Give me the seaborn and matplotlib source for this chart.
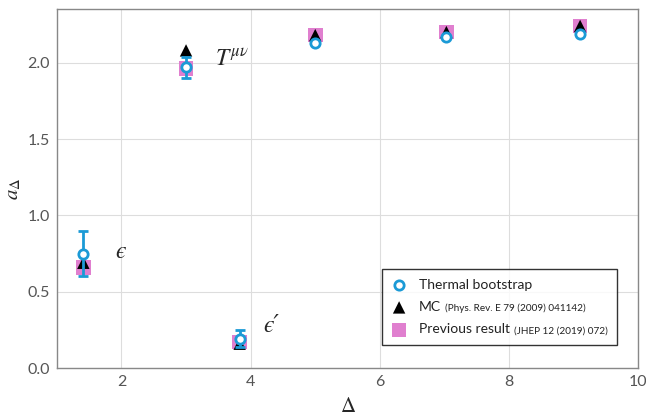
import pandas as pd
import seaborn as sns
import matplotlib.pyplot as plt
from matplotlib.ticker import MultipleLocator
from matplotlib.offsetbox import TextArea, HPacker

# operator dimensions and coefficients
delta = [1.41, 3.0, 3.83, 5.0, 7.03, 9.1]
thermal = [0.75, 1.97, 0.19, 2.13, 2.17, 2.19]
thermal_lo = [0.60, 1.90, 0.14, 2.13, 2.17, 2.19]
thermal_hi = [0.90, 2.04, 0.25, 2.13, 2.17, 2.19]
mc = [0.69, 2.08, 0.16, 2.18, 2.20, 2.24]
previous = [0.66, 1.96, 0.17, 2.18, 2.20, 2.24]

names = ['Thermal bootstrap', 'MC', 'Previous result']
refs = ['', '(Phys. Rev. E 79 (2009) 041142)', '(JHEP 12 (2019) 072)']
op_labels = [(1.9, 0.76, '\u03f5'), (3.45, 2.02, None), (4.2, 0.28, '\u03f5\u2032')]

blue = '#1b9ad6'
pink = '#e07fcf'

sns.set_style('white')
plt.rcParams['font.family'] = ['Lato', 'DejaVu Sans']
plt.rcParams['mathtext.fontset'] = 'stix'

fig, ax = plt.subplots(figsize=(6.46, 4.16), dpi=100)
fig.subplots_adjust(left=0.088, right=0.988, top=0.978, bottom=0.115)

df_prev = pd.DataFrame({'x': delta, 'y': previous})
df_mc = pd.DataFrame({'x': delta, 'y': mc})
df_th = pd.DataFrame({'x': delta, 'y': thermal})

sns.scatterplot(data=df_prev, x='x', y='y', marker='s', s=110, color=pink, edgecolor='none', ax=ax, zorder=3, label=names[2])
sns.scatterplot(data=df_mc, x='x', y='y', marker='^', s=80, color='black', edgecolor='none', ax=ax, zorder=4, label=names[1])
yerr = [[t - lo for t, lo in zip(thermal, thermal_lo)], [hi - t for t, hi in zip(thermal, thermal_hi)]]
ax.errorbar(delta, thermal, yerr=yerr, fmt='none', ecolor=blue, elinewidth=2, capsize=3.5, capthick=2, zorder=5)
sns.scatterplot(data=df_th, x='x', y='y', marker='o', s=45, color='white', edgecolor=blue, linewidth=2, ax=ax, zorder=6, label=names[0])

for x, y, t in op_labels:
    if t is None:
        ax.text(x, y, r'$T^{\mu\nu}$', fontsize=17, va='center', ha='left')
    else:
        ax.text(x, y, t, fontsize=17, va='center', ha='left', family=['STIXGeneral', 'DejaVu Serif'], style='italic')

ax.set_xlim(1, 10)
ax.set_ylim(0, 2.35)
ax.xaxis.set_minor_locator(MultipleLocator(0.5))
ax.yaxis.set_minor_locator(MultipleLocator(0.1))
ax.set_xticks([2, 4, 6, 8, 10])
ax.set_xticklabels(['2', '4', '6', '8', '10'])
ax.set_yticks([0, 0.5, 1.0, 1.5, 2.0])
ax.set_yticklabels(['0.0', '0.5', '1.0', '1.5', '2.0'])
ax.tick_params(which='both', direction='in', colors='#777777', labelcolor='#555555', labelsize=11.5)
ax.tick_params(which='major', length=0, pad=5)
ax.tick_params(which='minor', length=3, width=0.6)
ax.grid(True, which='major', color='#dddddd', linewidth=0.8)
for sp in ax.spines.values():
    sp.set_color('#888888')
    sp.set_linewidth(1)
ax.set_xlabel(r'$\Delta$', fontsize=15, labelpad=5)
ax.set_ylabel(r'$a_\Delta$', fontsize=15, labelpad=3)

fs, fs_ref = 10, 7.2
handles, labels = ax.get_legend_handles_labels()
order = [labels.index(n) for n in names]
leg = ax.legend([handles[i] for i in order], names,
                loc='lower right', bbox_to_anchor=(0.964, 0.064),
                frameon=True, fancybox=False, edgecolor='black', fontsize=fs, handletextpad=0.9,
                borderpad=0.7, labelspacing=0.75, handlelength=1.0, borderaxespad=0)
leg.get_frame().set_linewidth(1)
leg.set_zorder(10)
for t in leg.get_texts():
    t.set_color('#222222')

# small references appended to each legend label, aligned on the baseline
rows = [row for col in leg._legend_handle_box.get_children() for row in col.get_children()]
for row, ref in zip(rows, refs):
    if ref:
        kids = row.get_children()
        ta = TextArea(ref, textprops=dict(fontsize=fs_ref, color='#222222'))
        pair = HPacker(children=[kids[1], ta], pad=0, sep=3, align='baseline')
        pair.set_figure(fig)
        kids[1] = pair

plt.savefig('out.png', dpi=100)
